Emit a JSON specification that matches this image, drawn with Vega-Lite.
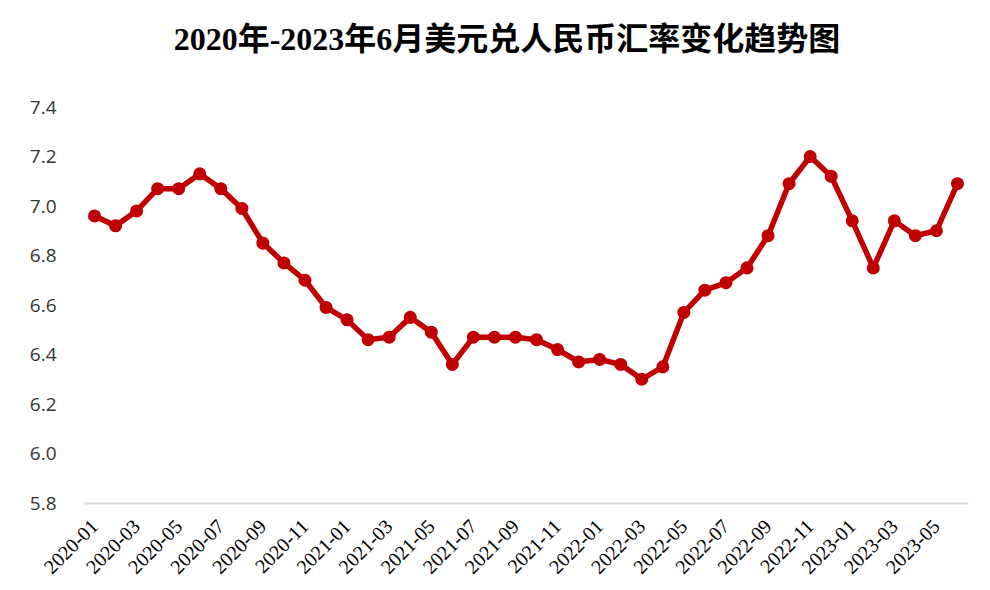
{
  "$schema": "https://vega.github.io/schema/vega-lite/v6.json",
  "autosize": {"type": "none"},
  "padding": {"left": 84, "top": 107, "right": 22, "bottom": 87},
  "width": 884,
  "height": 396,
  "background": "white",
  "title": {
    "text": "2020年-2023年6月美元兑人民币汇率变化趋势图",
    "font": "Liberation Serif, Noto Sans CJK SC",
    "fontSize": 32,
    "fontWeight": "bold",
    "color": "#000000",
    "anchor": "middle",
    "frame": "group",
    "dx": -19,
    "offset": 41
  },
  "data": {
    "values": [
      {"month": "2020-01", "rate": 6.96},
      {"month": "2020-02", "rate": 6.92},
      {"month": "2020-03", "rate": 6.98},
      {"month": "2020-04", "rate": 7.07},
      {"month": "2020-05", "rate": 7.07},
      {"month": "2020-06", "rate": 7.13},
      {"month": "2020-07", "rate": 7.07},
      {"month": "2020-08", "rate": 6.99},
      {"month": "2020-09", "rate": 6.85},
      {"month": "2020-10", "rate": 6.77},
      {"month": "2020-11", "rate": 6.70},
      {"month": "2020-12", "rate": 6.59},
      {"month": "2021-01", "rate": 6.54},
      {"month": "2021-02", "rate": 6.46},
      {"month": "2021-03", "rate": 6.47},
      {"month": "2021-04", "rate": 6.55},
      {"month": "2021-05", "rate": 6.49},
      {"month": "2021-06", "rate": 6.36},
      {"month": "2021-07", "rate": 6.47},
      {"month": "2021-08", "rate": 6.47},
      {"month": "2021-09", "rate": 6.47},
      {"month": "2021-10", "rate": 6.46},
      {"month": "2021-11", "rate": 6.42},
      {"month": "2021-12", "rate": 6.37},
      {"month": "2022-01", "rate": 6.38},
      {"month": "2022-02", "rate": 6.36},
      {"month": "2022-03", "rate": 6.30},
      {"month": "2022-04", "rate": 6.35},
      {"month": "2022-05", "rate": 6.57},
      {"month": "2022-06", "rate": 6.66},
      {"month": "2022-07", "rate": 6.69},
      {"month": "2022-08", "rate": 6.75},
      {"month": "2022-09", "rate": 6.88},
      {"month": "2022-10", "rate": 7.09},
      {"month": "2022-11", "rate": 7.20},
      {"month": "2022-12", "rate": 7.12},
      {"month": "2023-01", "rate": 6.94},
      {"month": "2023-02", "rate": 6.75},
      {"month": "2023-03", "rate": 6.94},
      {"month": "2023-04", "rate": 6.88},
      {"month": "2023-05", "rate": 6.90},
      {"month": "2023-06", "rate": 7.09}
    ]
  },
  "mark": {
    "type": "line",
    "color": "#C00000",
    "strokeWidth": 5.5,
    "point": {"filled": true, "size": 170, "color": "#C00000"}
  },
  "encoding": {
    "x": {
      "field": "month",
      "type": "ordinal",
      "sort": null,
      "scale": {"type": "point", "padding": 0.5},
      "axis": {
        "title": null,
        "values": ["2020-01","2020-03","2020-05","2020-07","2020-09","2020-11","2021-01","2021-03","2021-05","2021-07","2021-09","2021-11","2022-01","2022-03","2022-05","2022-07","2022-09","2022-11","2023-01","2023-03","2023-05"],
        "labelAngle": -45,
        "labelAlign": "right",
        "labelBaseline": "middle",
        "labelPadding": 20,
        "labelFont": "Liberation Serif",
        "labelFontSize": 20,
        "labelColor": "#000000",
        "labelOverlap": false,
        "ticks": false,
        "domainColor": "#d9d9d9",
        "domainWidth": 2,
        "grid": false
      }
    },
    "y": {
      "field": "rate",
      "type": "quantitative",
      "scale": {"domain": [5.8, 7.4], "zero": false, "nice": false},
      "axis": {
        "title": null,
        "values": [5.8, 6.0, 6.2, 6.4, 6.6, 6.8, 7.0, 7.2, 7.4],
        "format": ".1f",
        "domain": false,
        "ticks": false,
        "grid": false,
        "labelFont": "Open Sans",
        "labelFontSize": 19,
        "labelColor": "#333333",
        "labelPadding": 28
      }
    }
  },
  "config": {"view": {"stroke": null}}
}
